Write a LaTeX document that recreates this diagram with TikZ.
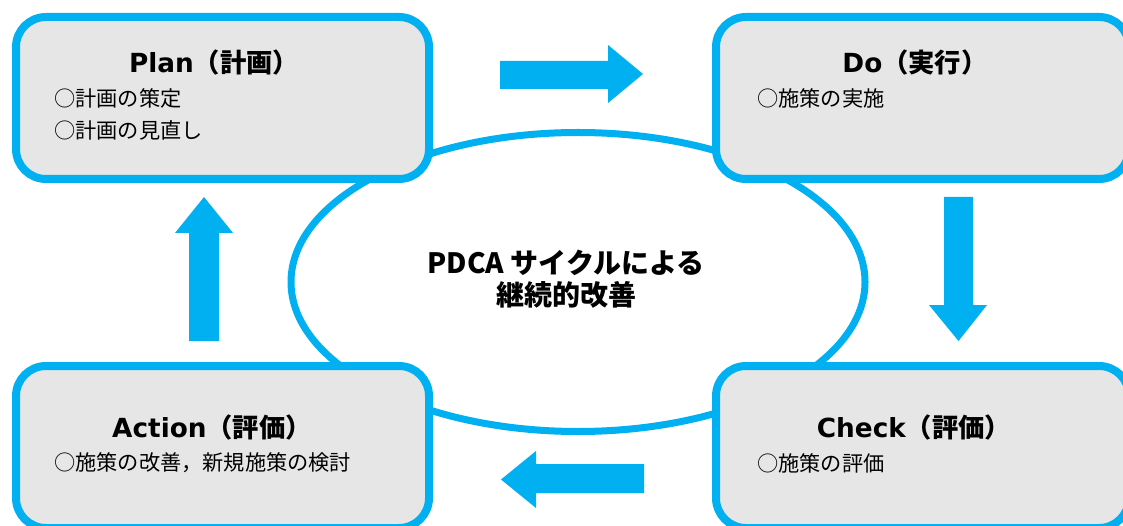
\documentclass[tikz,border=0pt]{standalone}
\usepackage{fontspec}
\setmainfont{Noto Sans CJK JP}
\newfontfamily\jp{Noto Sans CJK JP}
\newfontfamily\lat{DejaVu Sans}
\usetikzlibrary{shapes.geometric}
\definecolor{pdcablue}{HTML}{00B0F0}
\definecolor{boxgray}{HTML}{E6E6E6}
\begin{document}
\begin{tikzpicture}[x=1pt,y=-1pt,
  stagebox/.style={draw=pdcablue, line width=8pt, fill=boxgray, rounded corners=30pt,
    minimum width=413pt, minimum height=162pt, inner sep=0pt},
  stagetitle/.style={font=\fontsize{26.3}{30}\selectfont\bfseries, inner sep=0pt},
  stageitem/.style={font=\jp\fontsize{21.2}{24}\selectfont, anchor=west, inner sep=0pt},
  bigarrow/.style={fill=pdcablue, draw=none}]
\useasboundingbox (0,0) rectangle (1123,526);
% central cycle ellipse
\node[ellipse, draw=pdcablue, line width=7pt, minimum width=574pt, minimum height=299pt, inner sep=0pt] (cycle) at (578,282) {};
\node[font=\jp\fontsize{28}{32}\selectfont\bfseries, align=center, inner sep=0pt] (cycletext) at (566,279) {PDCA サイクルによる\\継続的改善};
% stage boxes
\node[stagebox] (plan) at (222.5,98) {};
\node[stagebox] (do) at (922.5,98) {};
\node[stagebox] (action) at (222.5,447) {};
\node[stagebox] (check) at (922.5,447) {};
% titles
\node[stagetitle] (plantitle) at (214,63) {{\lat Plan}{\jp（計画）}};
\node[stagetitle] (dotitle) at (915,63) {{\lat Do}{\jp（実行）}};
\node[stagetitle] (actiontitle) at (212,428) {{\lat Action}{\jp（評価）}};
\node[stagetitle] (checktitle) at (914,428) {{\lat Check}{\jp（評価）}};
% items
\node[stageitem] (plan1) at (54,98) {○計画の策定};
\node[stageitem] (plan2) at (54,130) {○計画の見直し};
\node[stageitem] (do1) at (757,98) {○施策の実施};
\node[stageitem] (action1) at (54,463) {○施策の改善，新規施策の検討};
\node[stageitem] (check1) at (757,463) {○施策の評価};
% block arrows
\fill[bigarrow] (500,61) -- (608,61) -- (608,45) -- (643,74) -- (608,103) -- (608,89) -- (500,89) -- cycle;
\fill[bigarrow] (944,197) -- (973,197) -- (973,305) -- (987,305) -- (958.5,341) -- (929,305) -- (944,305) -- cycle;
\fill[bigarrow] (644,464) -- (536,464) -- (536,451) -- (501,479.5) -- (536,508) -- (536,493) -- (644,493) -- cycle;
\fill[bigarrow] (189,341) -- (189,233) -- (175,233) -- (204,197) -- (233,233) -- (219,233) -- (219,341) -- cycle;
\end{tikzpicture}
\end{document}
